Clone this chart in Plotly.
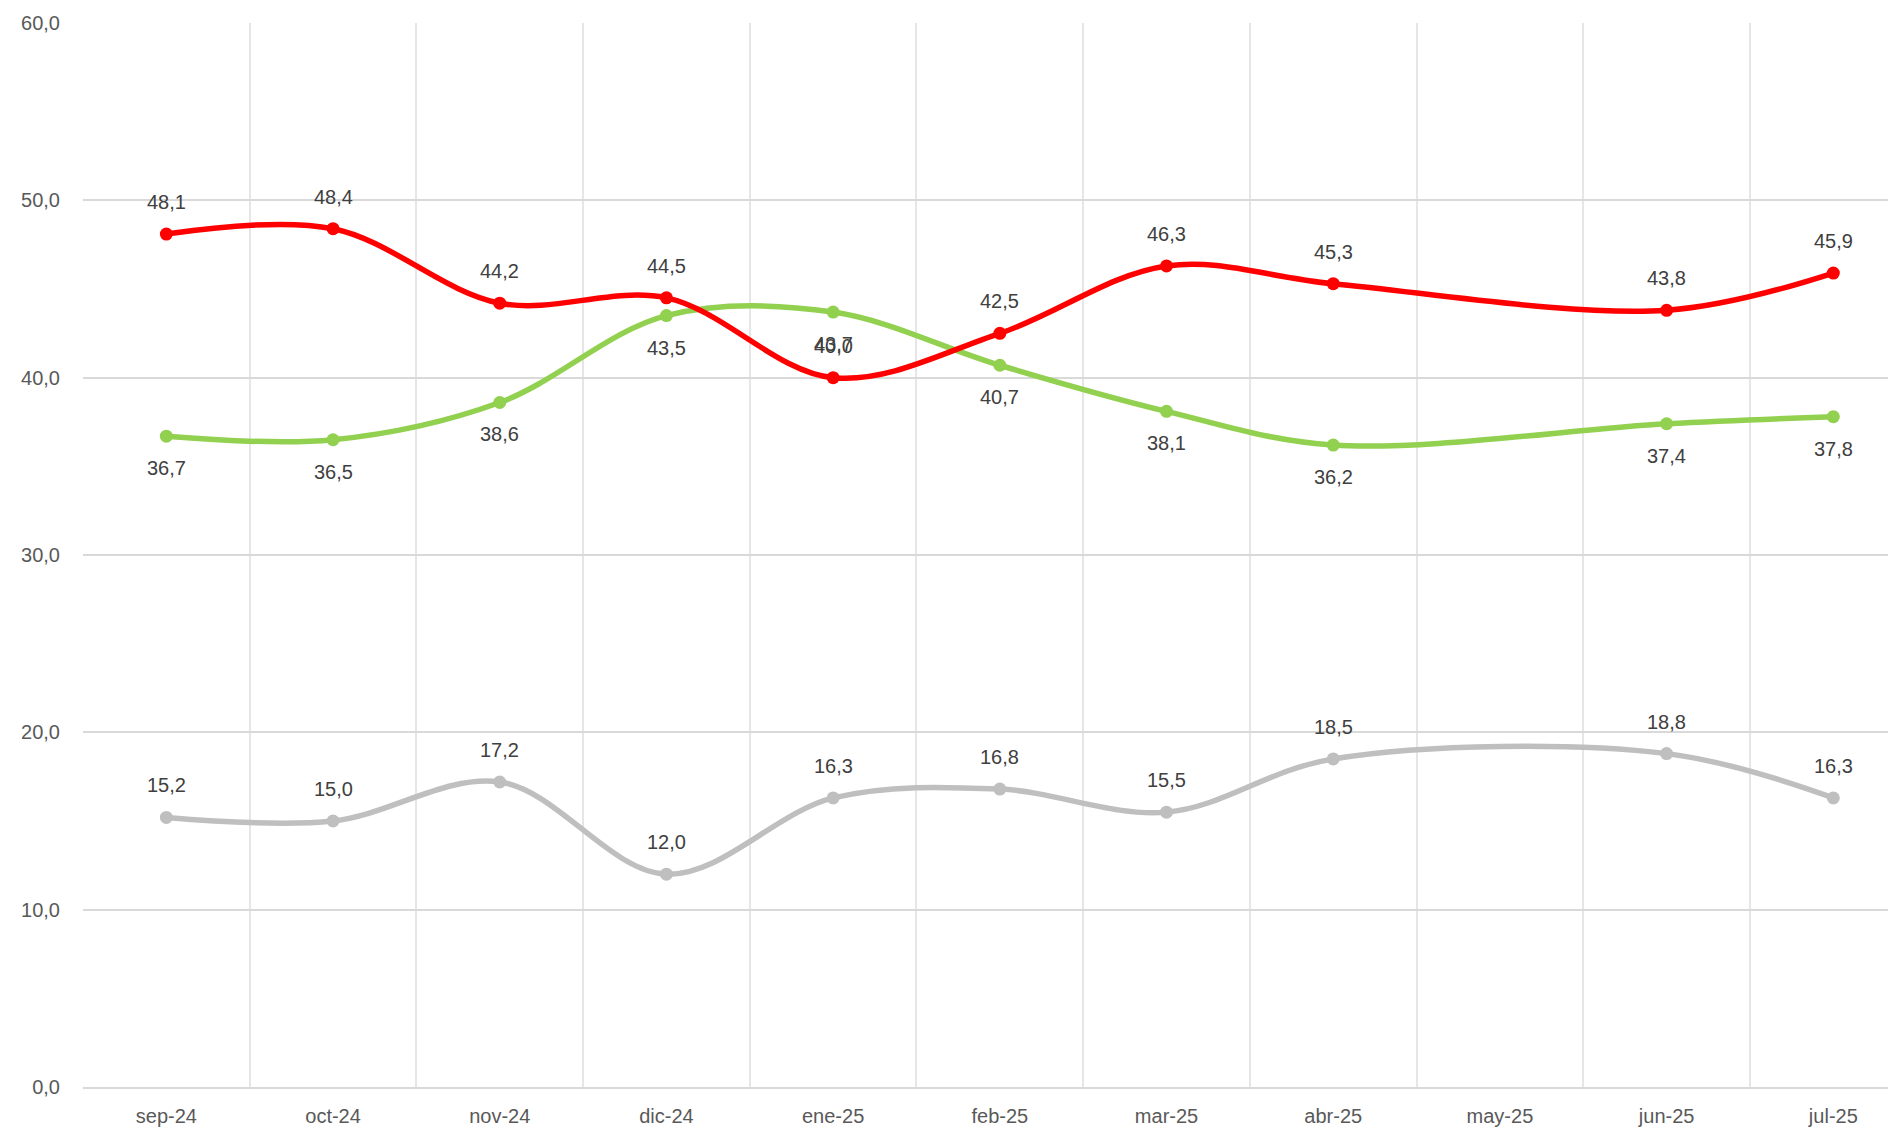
import plotly.graph_objects as go

months = ["sep-24", "oct-24", "nov-24", "dic-24", "ene-25", "feb-25", "mar-25", "abr-25", "may-25", "jun-25", "jul-25"]
red_vals = [48.1, 48.4, 44.2, 44.5, 40.0, 42.5, 46.3, 45.3, None, 43.8, 45.9]
green_vals = [36.7, 36.5, 38.6, 43.5, 43.7, 40.7, 38.1, 36.2, None, 37.4, 37.8]
gray_vals = [15.2, 15.0, 17.2, 12.0, 16.3, 16.8, 15.5, 18.5, None, 18.8, 16.3]
y_ticks = [0, 10, 20, 30, 40, 50, 60]

series = [
    (gray_vals, "#BFBFBF", 32),
    (green_vals, "#92D050", -32),
    (red_vals, "#FF0000", 32),
]

FONT = "Liberation Sans, Arial, sans-serif"

fig = go.Figure()
annotations = []
for vals, color, shift in series:
    fig.add_trace(go.Scatter(
        x=months, y=vals, mode="lines+markers",
        line=dict(color=color, width=5.5, shape="spline", smoothing=1.0),
        marker=dict(color=color, size=13),
        connectgaps=True, showlegend=False, hoverinfo="skip",
    ))
    for m, v in zip(months, vals):
        if v is None:
            continue
        annotations.append(dict(
            x=m, y=v, xref="x", yref="y", text=f"{v:.1f}".replace(".", ","),
            showarrow=False, yshift=shift,
            font=dict(family=FONT, size=20, color="#404040"),
        ))

fig.update_layout(
    width=1888, height=1121,
    margin=dict(l=75, r=0, t=15, b=42),
    paper_bgcolor="white", plot_bgcolor="white",
    annotations=annotations,
    xaxis=dict(
        type="category", range=[-0.5, 10.376], tickson="boundaries",
        showgrid=True, gridcolor="#E6E6E6", gridwidth=2,
        showline=True, linecolor="#D9D9D9", linewidth=2,
        ticks="", ticklen=0,
        tickfont=dict(family=FONT, size=20, color="#595959"),
        ticklabelstandoff=10,
        fixedrange=True,
    ),
    yaxis=dict(
        range=[0, 60], tickvals=y_ticks,
        ticktext=[f"{t:.1f}".replace(".", ",") for t in y_ticks],
        showgrid=True, gridcolor="#D9D9D9", gridwidth=2,
        zeroline=False, showline=False,
        tickfont=dict(family=FONT, size=20, color="#595959"),
        ticklabelstandoff=22,
    ),
)

fig.write_html("out.html")
